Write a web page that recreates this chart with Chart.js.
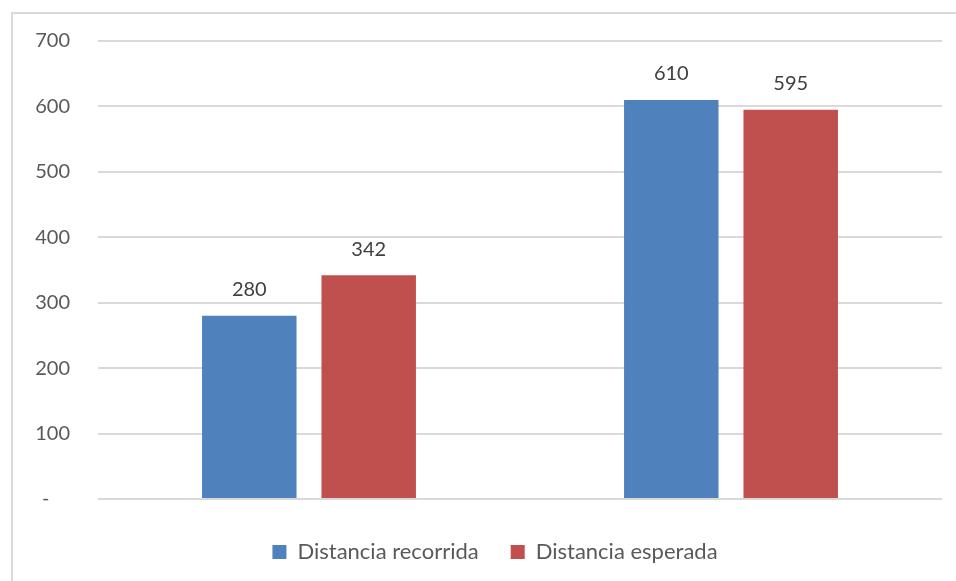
<!DOCTYPE html>
<html>
<head>
<meta charset="utf-8">
<script src="https://cdn.jsdelivr.net/npm/chart.js@4/dist/chart.umd.min.js"></script>
<style>
  html, body { margin: 0; padding: 0; background: #ffffff; }
  #wrap { position: relative; width: 956px; height: 581px; }
</style>
</head>
<body>
<div id="wrap"><canvas id="chart" width="956" height="581"></canvas></div>
<script>
// Two groups, unlabeled on the category axis
const categories = ['', ''];
const recorrida = [280, 610];
const esperada = [342, 595];
const seriesNames = ['Distancia recorrida', 'Distancia esperada'];
const yTicks = [0, 100, 200, 300, 400, 500, 600, 700];

const FONT = 'Lato, "Open Sans", sans-serif';

// Light frame on the left and top edges of the chart area
const framePlugin = {
  id: 'frame',
  beforeDraw(chart) {
    const ctx = chart.ctx;
    ctx.save();
    ctx.strokeStyle = '#d9d9d9';
    ctx.lineWidth = 2;
    ctx.beginPath();
    ctx.moveTo(12, 581);
    ctx.lineTo(12, 13);
    ctx.lineTo(956, 13);
    ctx.stroke();
    ctx.restore();
  }
};

// Nudge the legend a little to the right of the canvas center
const LEGEND_OFFSET = 24;
const legendShift = {
  id: 'legendShift',
  afterLayout(chart) {
    const lg = chart.legend;
    if (!lg) return;
    lg.left += LEGEND_OFFSET;
    lg.right += LEGEND_OFFSET;
  }
};

// Value labels above each bar
const valueLabels = {
  id: 'valueLabels',
  afterDatasetsDraw(chart) {
    const ctx = chart.ctx;
    ctx.save();
    ctx.font = '20px ' + FONT;
    ctx.fillStyle = '#404040';
    ctx.textAlign = 'center';
    ctx.textBaseline = 'bottom';
    chart.data.datasets.forEach((ds, i) => {
      chart.getDatasetMeta(i).data.forEach((bar, j) => {
        ctx.fillText(String(ds.data[j]), bar.x, bar.y - 16);
      });
    });
    ctx.restore();
  }
};

new Chart(document.getElementById('chart'), {
  type: 'bar',
  data: {
    labels: categories,
    datasets: [
      { label: seriesNames[0], data: recorrida, backgroundColor: '#4f81bd' },
      { label: seriesNames[1], data: esperada, backgroundColor: '#c0504d' }
    ]
  },
  options: {
    responsive: false,
    animation: false,
    devicePixelRatio: 1,
    layout: { padding: { left: 0, right: 14, top: 41, bottom: 8 } },
    datasets: {
      bar: { categoryPercentage: 0.566, barPercentage: 0.791 }
    },
    scales: {
      x: {
        ticks: { display: false },
        grid: { display: false, drawTicks: false },
        border: { display: false },
        afterFit(s) { s.height = 10; }
      },
      y: {
        min: 0,
        max: 700,
        afterBuildTicks(s) { s.ticks = yTicks.map(v => ({ value: v })); },
        ticks: {
          padding: 28,
          color: '#595959',
          font: { family: FONT, size: 20 },
          callback: (v) => v === 0 ? '-    ' : String(v)
        },
        grid: { color: '#d9d9d9', lineWidth: 2, drawTicks: false },
        border: { display: false },
        afterFit(s) { s.width = 98; }
      }
    },
    plugins: {
      legend: {
        position: 'bottom',
        labels: {
          boxWidth: 14,
          boxHeight: 14,
          padding: 32,
          color: '#595959',
          font: { family: FONT, size: 22 }
        }
      },
      tooltip: { enabled: false }
    }
  },
  plugins: [framePlugin, legendShift, valueLabels]
});
</script>
</body>
</html>
